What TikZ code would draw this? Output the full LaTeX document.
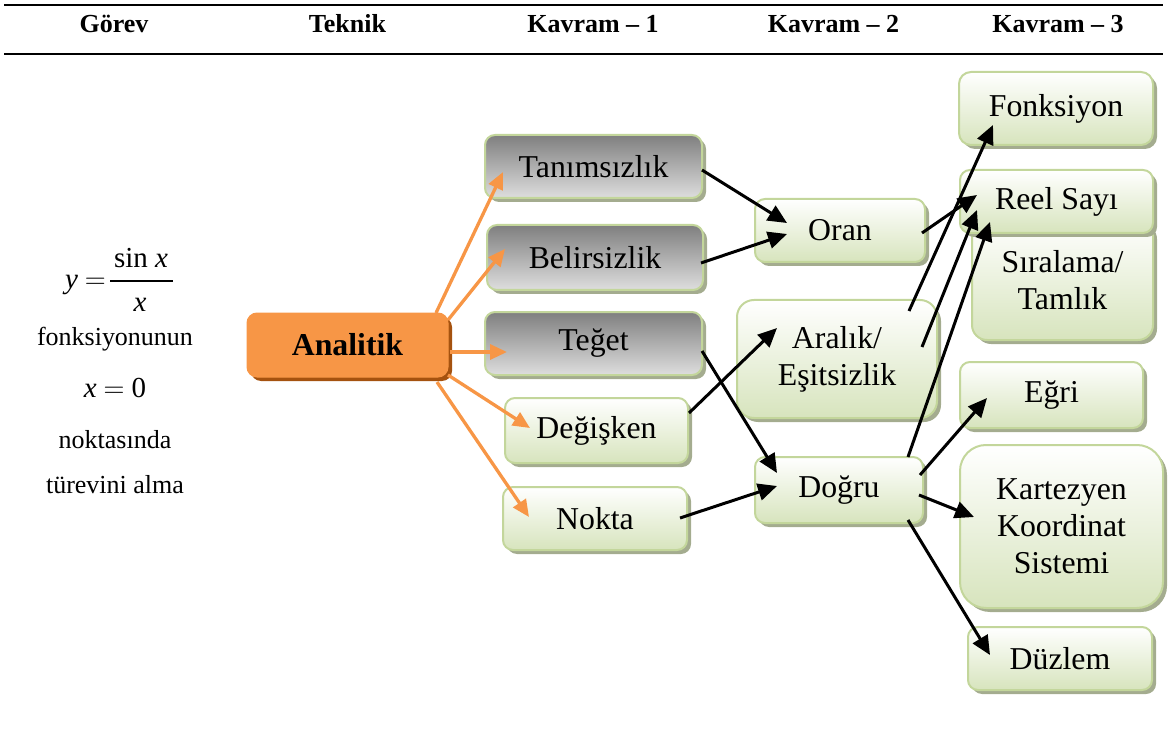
\documentclass[tikz,border=0pt]{standalone}
\usepackage{fix-cm}
\usepackage{fontspec}
\setmainfont{Liberation Serif}
\usetikzlibrary{arrows.meta,shadows}
\definecolor{bordergreen}{HTML}{C3D69B}
\definecolor{greenbot}{HTML}{D7E4BD}
\definecolor{graytop}{HTML}{7F7F7F}
\definecolor{graybot}{HTML}{DEDEDE}
\definecolor{shadowc}{HTML}{A4AC8F}
\definecolor{orangef}{HTML}{F79646}
\definecolor{orangesh}{HTML}{A5520F}
\begin{document}
\begin{tikzpicture}[x=1pt,y=-1pt,
  basebox/.style={rectangle, rounded corners=10pt, draw=bordergreen, line width=2pt,
    inner sep=0pt, align=center, font=\fontsize{31.8}{37}\selectfont,
    drop shadow={shadow xshift=4pt, shadow yshift=-4pt, fill=shadowc, opacity=1}},
  graybox/.style={basebox, top color=graytop, bottom color=graybot},
  greenbox/.style={basebox, top color=white, bottom color=greenbot},
  analbox/.style={rectangle, rounded corners=10pt, draw=orangef, fill=orangef, line width=1pt,
    inner sep=0pt, font=\fontsize{31.8}{37}\selectfont\bfseries,
    drop shadow={shadow xshift=4pt, shadow yshift=-4pt, fill=orangesh, opacity=1}},
  headtext/.style={anchor=base, inner sep=0pt, font=\fontsize{26}{30}\selectfont\bfseries},
  lefttext/.style={anchor=base, inner sep=0pt, font=\fontsize{26}{30}\selectfont},
  mathtext/.style={anchor=base, inner sep=0pt, font=\fontsize{29}{33}\selectfont},
  oarrow/.style={draw=orangef, line width=3.3pt, -{Triangle[length=17pt,width=15pt]}},
  barrow/.style={draw=black, line width=3pt, -{Triangle[length=19pt,width=17pt]}}
]
\useasboundingbox (0,0) rectangle (1168,730);

% header
\draw[line width=2.5pt] (4,5) -- (1163,5);
\draw[line width=2.5pt] (4,54) -- (1163,54);
\node[headtext] (h1) at (114,33) {Görev};
\node[headtext] (h2) at (347.5,33) {Teknik};
\node[headtext] (h3) at (593,33) {Kavram – 1};
\node[headtext] (h4) at (833.5,33) {Kavram – 2};
\node[headtext] (h5) at (1058,33) {Kavram – 3};

% left task text
\node[mathtext, anchor=base east] (fy) at (106,289) {\textit{y}\hspace{7pt}$=$};
\node[mathtext] (fnum) at (141,268) {sin \textit{x}};
\node[mathtext] (fden) at (140,312) {\textit{x}};
\draw[line width=1.3pt] (110,281) -- (173,281);
\node[lefttext] (t1) at (115,345) {fonksiyonunun};
\node[mathtext] (t2) at (115,397) {\textit{x}\hspace{7pt}$=$\hspace{7pt}0};
\node[lefttext] (t3) at (115,448) {noktasında};
\node[lefttext] (t4) at (115,493) {türevini alma};

% technique
\node[analbox, minimum width=201pt, minimum height=64pt] (anal) at (347.5,345) {Analitik};

% concept 1
\node[graybox, minimum width=217pt, minimum height=63pt] (tanim) at (593.5,166.5) {Tanımsızlık};
\node[graybox, minimum width=216pt, minimum height=65pt] (belir) at (595,257.5) {Belirsizlik};
\node[graybox, minimum width=217pt, minimum height=63pt] (teget) at (593.5,343.5) {Teğet};
\node[greenbox, minimum width=183pt, minimum height=65pt] (degis) at (596.5,430.5) {Değişken};
\node[greenbox, minimum width=184pt, minimum height=63pt] (nokta) at (595,518.5) {Nokta};

% concept 2
\node[greenbox, minimum width=170pt, minimum height=63pt] (oran) at (840,230.5) {Oran};
\node[greenbox, rounded corners=17pt, minimum width=200pt, minimum height=118pt] (aralik) at (837,359) {Aralık/\\Eşitsizlik};
\node[greenbox, minimum width=168pt, minimum height=66pt] (dogru) at (839,490) {Doğru};

% concept 3
\node[greenbox, rounded corners=12pt, minimum width=194pt, minimum height=73pt] (fonk) at (1056,108.5) {Fonksiyon};
\node[greenbox, rounded corners=15pt, minimum width=181pt, minimum height=120pt] (sira) at (1062.5,280) {Sıralama/\\Tamlık};
\node[greenbox, minimum width=193pt, minimum height=63pt] (reel) at (1056.5,201.5) {Reel Sayı};
\node[greenbox, minimum width=183pt, minimum height=66pt] (egri) at (1051.5,395) {Eğri};
\node[greenbox, rounded corners=26pt, minimum width=203pt, minimum height=163pt] (kart) at (1061.5,526.5) {Kartezyen\\Koordinat\\Sistemi};
\node[greenbox, minimum width=184pt, minimum height=63pt] (duz) at (1060,658.5) {Düzlem};

% orange arrows
\draw[oarrow] ([shift={(88.5,-32)}]anal.center) -- ([shift={(-90.5,5.5)}]tanim.center);
\draw[oarrow] ([shift={(100.5,-25)}]anal.center) -- ([shift={(-90,-8.5)}]belir.center);
\draw[oarrow] ([shift={(102,7)}]anal.center) -- ([shift={(-86.5,8.5)}]teget.center);
\draw[oarrow] ([shift={(100.5,30)}]anal.center) -- ([shift={(-66.5,-2.5)}]degis.center);
\draw[oarrow] ([shift={(89.5,37)}]anal.center) -- ([shift={(-66,-1.5)}]nokta.center);

% black arrows
\draw[barrow] ([shift={(108.5,3.5)}]tanim.center) -- ([shift={(-53,-7.5)}]oran.center);
\draw[barrow] ([shift={(106,5.5)}]belir.center) -- ([shift={(-53,3.5)}]oran.center);
\draw[barrow] ([shift={(108.5,7.5)}]teget.center) -- ([shift={(-62,-17)}]dogru.center);
\draw[barrow] ([shift={(92.5,-17.5)}]degis.center) -- ([shift={(-60,-31)}]aralik.center);
\draw[barrow] ([shift={(85,-0.5)}]nokta.center) -- ([shift={(-62,-4)}]dogru.center);
\draw[barrow] ([shift={(82,2.5)}]oran.center) -- ([shift={(-79.5,-6.5)}]reel.center);
\draw[barrow] ([shift={(72,-48)}]aralik.center) -- ([shift={(-63,16.5)}]fonk.center);
\draw[barrow] ([shift={(85,-12)}]aralik.center) -- ([shift={(-79.5,8.5)}]reel.center);
\draw[barrow] ([shift={(69,-33)}]dogru.center) -- ([shift={(-66.5,20.5)}]reel.center);
\draw[barrow] ([shift={(81,-15)}]dogru.center) -- ([shift={(-64.5,3)}]egri.center);
\draw[barrow] ([shift={(80,5)}]dogru.center) -- ([shift={(-87.5,-9.5)}]kart.center);
\draw[barrow] ([shift={(69,30)}]dogru.center) -- ([shift={(-70,-3.5)}]duz.center);
\end{tikzpicture}
\end{document}
